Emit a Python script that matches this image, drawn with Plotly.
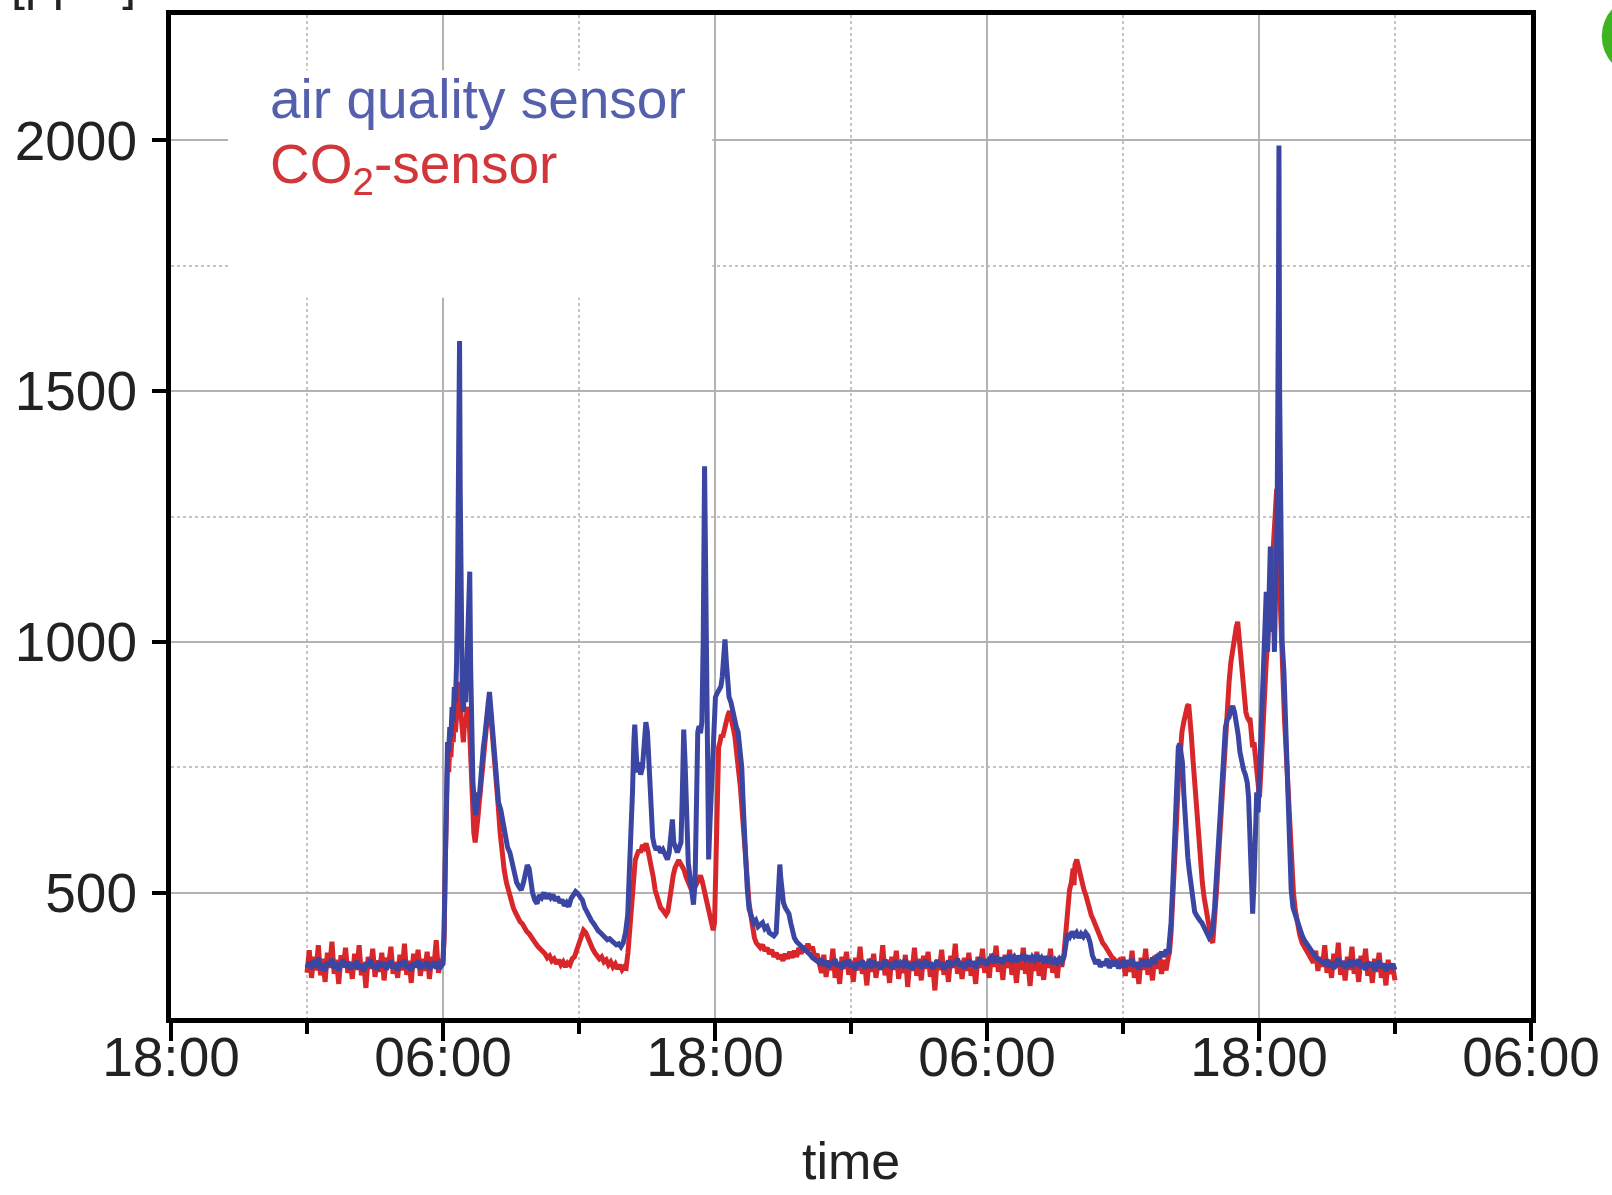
import plotly.graph_objects as go

# ---------------- data (hours after 18:00 of day 0, ppm) ----------------
tick_hours = [0, 12, 24, 36, 48, 60]
tick_labels = ["18:00", "06:00", "18:00", "06:00", "18:00", "06:00"]
y_ticks = [500, 1000, 1500, 2000]

air_t = [
    6.0, 6.1, 6.2, 6.3, 6.4, 6.5, 6.6, 6.7, 6.8, 6.9, 7.0, 7.1, 7.2, 7.3, 7.4, 7.5, 7.6, 7.7, 7.8, 7.9,
    8.0, 8.1, 8.2, 8.3, 8.4, 8.5, 8.6, 8.7, 8.8, 8.9, 9.0, 9.1, 9.2, 9.3, 9.4, 9.5, 9.6, 9.7, 9.8, 9.9,
    10.0, 10.1, 10.2, 10.3, 10.4, 10.5, 10.6, 10.7, 10.8, 10.9, 11.0, 11.1, 11.2, 11.3, 11.4, 11.5, 11.6, 11.7, 11.8, 11.9,
    12.0, 12.05, 12.1, 12.15, 12.2, 12.25, 12.3, 12.35, 12.4, 12.45, 12.5, 12.55, 12.6, 12.65, 12.7, 12.73, 12.76, 12.8,
    12.85, 12.9, 12.95, 13.0, 13.05, 13.1, 13.15, 13.18, 13.22, 13.27, 13.32, 13.38, 13.44, 13.5, 13.55, 13.6, 13.66,
    13.72, 13.78, 13.84, 13.9, 13.95, 14.0, 14.05, 14.1, 14.15, 14.22, 14.3, 14.37, 14.45, 14.55, 14.65, 14.75, 14.85,
    14.95, 15.05, 15.15, 15.25, 15.35, 15.45, 15.55, 15.65, 15.72, 15.8, 15.88, 15.95, 16.05, 16.15, 16.25, 16.35, 16.45,
    16.55, 16.65, 16.75, 16.85, 16.95, 17.05, 17.15, 17.25, 17.35, 17.45, 17.55, 17.65, 17.75, 17.85, 17.95, 18.05, 18.15,
    18.25, 18.35, 18.45, 18.55, 18.65, 18.75, 18.85, 18.95, 19.05, 19.15, 19.25, 19.35, 19.45, 19.55, 19.65, 19.75, 19.85,
    19.95, 20.05, 20.15, 20.22, 20.3, 20.36, 20.42, 20.46, 20.52, 20.58, 20.65, 20.72, 20.8, 20.88, 20.95, 21.02, 21.1,
    21.18, 21.25, 21.32, 21.4, 21.5, 21.6, 21.7, 21.8, 21.9, 21.98, 22.06, 22.12, 22.18, 22.26, 22.34, 22.42, 22.5, 22.56,
    22.62, 22.68, 22.74, 22.82, 22.9, 22.98, 23.05, 23.12, 23.18, 23.24, 23.3, 23.36, 23.42, 23.48, 23.54, 23.58, 23.63,
    23.68, 23.72, 23.78, 23.84, 23.9, 23.96, 24.02, 24.1, 24.18, 24.26, 24.32, 24.38, 24.44, 24.5, 24.56, 24.62, 24.7,
    24.78, 24.86, 24.94, 25.02, 25.1, 25.18, 25.26, 25.34, 25.42, 25.5, 25.6, 25.7, 25.8, 25.9, 26.0, 26.1, 26.2, 26.3,
    26.4, 26.5, 26.6, 26.7, 26.76, 26.82, 26.86, 26.9, 26.96, 27.02, 27.1, 27.18, 27.26, 27.34, 27.42, 27.5, 27.6, 27.7,
    27.8, 27.9, 28.0, 28.1, 28.2, 28.3, 28.4, 28.5,
    28.6, 28.7, 28.8, 28.9, 29.0, 29.1, 29.2, 29.3, 29.4, 29.5, 29.6, 29.7, 29.8, 29.9, 30.0, 30.1, 30.2, 30.3, 30.4, 30.5,
    30.6, 30.7, 30.8, 30.9, 31.0, 31.1, 31.2, 31.3, 31.4, 31.5, 31.6, 31.7, 31.8, 31.9, 32.0, 32.1, 32.2, 32.3, 32.4, 32.5,
    32.6, 32.7, 32.8, 32.9, 33.0, 33.1, 33.2, 33.3, 33.4, 33.5, 33.6, 33.7, 33.8, 33.9, 34.0, 34.1, 34.2, 34.3, 34.4, 34.5,
    34.6, 34.7, 34.8, 34.9, 35.0, 35.1, 35.2, 35.3, 35.4, 35.5, 35.6, 35.7, 35.8, 35.9, 36.0, 36.1, 36.2, 36.3, 36.4, 36.5,
    36.6, 36.7, 36.8, 36.9, 37.0, 37.1, 37.2, 37.3, 37.4, 37.5, 37.6, 37.7, 37.8, 37.9, 38.0, 38.1, 38.2, 38.3, 38.4, 38.5,
    38.6, 38.7, 38.8, 38.9, 39.0, 39.1, 39.2, 39.3,
    39.4, 39.48, 39.55, 39.65, 39.75, 39.85, 39.95, 40.05, 40.15, 40.25, 40.35, 40.45, 40.55, 40.65, 40.75,
    40.8, 40.9, 41.0, 41.1, 41.2, 41.3, 41.4, 41.5, 41.6, 41.7, 41.8, 41.9, 42.0, 42.1, 42.2, 42.3, 42.4, 42.5, 42.6, 42.7,
    42.8, 42.9, 43.0, 43.1, 43.2, 43.3, 43.4, 43.5, 43.6, 43.7, 43.8, 43.9, 44.0,
    44.05, 44.12, 44.2, 44.28, 44.36, 44.44, 44.5, 44.56, 44.62, 44.68, 44.74, 44.8, 44.86, 44.92, 45.0, 45.08, 45.16,
    45.24, 45.32, 45.4, 45.48, 45.56, 45.64, 45.72, 45.8, 45.88, 45.96, 46.04, 46.12, 46.2, 46.28, 46.36, 46.44, 46.52,
    46.6, 46.68, 46.76, 46.84, 46.92, 47.0, 47.08, 47.16, 47.24, 47.32, 47.4, 47.48, 47.54, 47.6, 47.66, 47.72, 47.78,
    47.84, 47.9, 47.96, 48.02, 48.08, 48.14, 48.2, 48.26, 48.32, 48.38, 48.44, 48.5, 48.56, 48.62, 48.68, 48.74, 48.8,
    48.86, 48.88, 48.91, 48.96, 49.02, 49.1, 49.18, 49.26, 49.34, 49.42, 49.5, 49.6, 49.7, 49.8, 49.9, 50.0, 50.1, 50.2,
    50.3, 50.4, 50.5, 50.6, 50.7, 50.8, 50.9,
    51.0, 51.1, 51.2, 51.3, 51.4, 51.5, 51.6, 51.7, 51.8, 51.9, 52.0, 52.1, 52.2, 52.3, 52.4, 52.5, 52.6, 52.7, 52.8, 52.9,
    53.0, 53.1, 53.2, 53.3, 53.4, 53.5, 53.6, 53.7, 53.8, 53.9, 54.0,
]
air_ppm = [
    350, 362, 348, 365, 352, 370, 346, 358, 344, 362, 355, 368, 349, 360, 345, 357, 366, 351, 362, 347,
    359, 350, 364, 348, 356, 343, 361, 353, 367, 350, 358, 346, 363, 352, 360, 347, 356, 364, 349, 358,
    345, 362, 354, 366, 350, 357, 344, 360, 352, 365, 348, 359, 351, 363, 347, 356, 362, 349, 358, 352,
    358, 430, 620, 760, 800, 780, 830, 810, 870, 840, 910, 880, 960, 1150, 1450, 1600, 1300, 1000,
    900, 860, 930, 880, 950, 1000, 1100, 1140, 950, 800, 720, 680, 655, 670, 700, 690, 735,
    760, 790, 810, 850, 870, 880, 900, 870, 850, 800, 740, 720, 680, 665, 640, 615, 590,
    580, 560, 540, 520, 512, 505, 520, 540, 555, 548, 520, 500, 485, 478, 495, 490, 500,
    488, 498, 490, 496, 484, 492, 480, 486, 474, 480, 472, 488, 496, 502, 498, 490, 485,
    470, 460, 452, 444, 438, 430, 424, 420, 414, 412, 406, 408, 402, 400, 396, 398, 392,
    400, 420, 455, 540, 610, 700, 800, 835, 780, 740, 760, 735, 750, 790, 840, 820, 740,
    690, 610, 595, 585, 592, 580, 586, 572, 566, 580, 620, 646, 600, 585, 580, 590, 600, 700,
    825, 760, 620, 560, 530, 500, 476, 520, 700, 820, 832, 818, 840, 1000, 1350, 1100, 800,
    600, 566, 640, 720, 800, 860, 890, 898, 905, 911, 930, 960, 1005, 960, 905, 890, 880,
    860, 840, 830, 820, 790, 750, 660, 560, 510, 468, 450, 440, 445, 432, 436, 440, 428, 432,
    420, 418, 414, 420, 470, 540, 556, 530, 500, 480, 470, 462, 458, 440, 420, 410, 402, 398,
    394, 388, 384, 380, 376, 370, 366, 364,
    360, 368, 355, 364, 350, 362, 356, 367, 352, 360, 348, 363, 355, 366, 351, 359, 346, 361, 354, 365,
    349, 358, 362, 350, 364, 353, 360, 347, 357, 366, 352, 361, 349, 358, 364, 351, 360, 355, 367, 350,
    359, 346, 362, 354, 363, 349, 358, 366, 352, 361, 348, 357, 365, 353, 360, 347, 358, 364, 351, 362,
    356, 368, 353, 361, 349, 360, 366, 354, 363, 350, 362, 370, 358, 366, 355, 368, 372, 360, 374, 362,
    370, 358, 372, 364, 376, 366, 372, 362, 374, 366, 378, 368, 374, 362, 372, 366, 376, 364, 370, 360,
    372, 364, 368, 358, 366, 360, 368, 362,
    372, 400, 418, 412, 422, 414, 420, 410, 418, 412, 420, 414, 400, 375, 362,
    358, 366, 352, 362, 355, 368, 350, 360, 354, 365, 349, 358, 362, 351, 364, 355, 368, 352, 361, 348,
    360, 366, 353, 362, 357, 370, 358, 376, 368, 382, 372, 386, 378,
    400, 440, 520, 620, 720, 790, 797, 780, 760, 700, 640, 600, 570, 545, 510, 485, 462,
    455, 448, 444, 440, 432, 425, 418, 410, 415, 430, 470, 530, 600, 670, 730, 790, 830,
    845, 850, 865, 872, 860, 840, 815, 780, 760, 745, 735, 720, 690, 620, 540, 458, 520,
    620, 700, 660, 740, 820, 900, 960, 1040, 1100, 980, 1080, 1190, 1020, 1120, 980, 1150, 1250,
    1700, 1990, 1500, 1100, 1000, 940, 830, 700, 580, 505, 470, 455, 440, 428, 415, 405, 398, 390,
    385, 378, 372, 368, 364, 362, 358,
    366, 352, 362, 348, 360, 368, 354, 363, 349, 358, 366, 351, 361, 355, 367, 350, 359, 346, 362, 353,
    360, 345, 357, 364, 350, 358, 344, 356, 348, 358, 346,
]

co2_t = [
    6.0, 6.1, 6.2, 6.3, 6.4, 6.5, 6.6, 6.7, 6.8, 6.9, 7.0, 7.1, 7.2, 7.3, 7.4, 7.5, 7.6, 7.7, 7.8, 7.9,
    8.0, 8.1, 8.2, 8.3, 8.4, 8.5, 8.6, 8.7, 8.8, 8.9, 9.0, 9.1, 9.2, 9.3, 9.4, 9.5, 9.6, 9.7, 9.8, 9.9,
    10.0, 10.1, 10.2, 10.3, 10.4, 10.5, 10.6, 10.7, 10.8, 10.9, 11.0, 11.1, 11.2, 11.3, 11.4, 11.5, 11.6, 11.7, 11.8, 11.9,
    12.0, 12.05, 12.1, 12.15, 12.2, 12.25, 12.3, 12.35, 12.4, 12.45, 12.5, 12.55, 12.6, 12.65, 12.7, 12.75, 12.8, 12.85,
    12.9, 12.95, 13.0, 13.05, 13.1, 13.15, 13.2, 13.25, 13.3, 13.36, 13.42, 13.48, 13.54, 13.6, 13.66, 13.72, 13.78,
    13.84, 13.9, 13.96, 14.02, 14.08, 14.14, 14.2, 14.28, 14.36, 14.44, 14.52, 14.6, 14.7, 14.8, 14.9, 15.0, 15.1, 15.2,
    15.3, 15.4, 15.5, 15.6, 15.7, 15.8, 15.9, 16.0, 16.1, 16.2, 16.3, 16.4, 16.5, 16.6, 16.7, 16.8, 16.9, 17.0, 17.1,
    17.2, 17.3, 17.4, 17.5, 17.6, 17.7, 17.8, 17.9, 18.0, 18.1, 18.2, 18.3, 18.4, 18.5, 18.6, 18.7, 18.8, 18.9, 19.0,
    19.1, 19.2, 19.3, 19.4, 19.5, 19.6, 19.7, 19.8, 19.9, 20.0, 20.08, 20.16, 20.24, 20.32, 20.4, 20.48, 20.56, 20.64,
    20.72, 20.8, 20.88, 20.96, 21.04, 21.12, 21.2, 21.28, 21.36, 21.44, 21.52, 21.6, 21.68, 21.76, 21.84, 21.92, 22.0,
    22.08, 22.16, 22.24, 22.32, 22.4, 22.48, 22.56, 22.64, 22.72, 22.8, 22.88, 22.96, 23.04, 23.12, 23.2, 23.28, 23.36,
    23.44, 23.52, 23.6, 23.68, 23.76, 23.84, 23.92, 23.98, 24.04, 24.1, 24.16, 24.22, 24.28, 24.34, 24.4, 24.46, 24.52,
    24.58, 24.64, 24.7, 24.76, 24.82, 24.88, 24.94, 25.0, 25.06, 25.12, 25.18, 25.24, 25.3, 25.36, 25.42, 25.5, 25.58,
    25.66, 25.74, 25.82, 25.9, 26.0, 26.1, 26.2, 26.3, 26.4, 26.5, 26.6, 26.7, 26.8, 26.9, 27.0, 27.1, 27.2, 27.3, 27.4,
    27.5, 27.6, 27.7, 27.8, 27.9, 28.0, 28.1, 28.2, 28.3, 28.4, 28.5,
    28.6, 28.7, 28.8, 28.9, 29.0, 29.1, 29.2, 29.3, 29.4, 29.5, 29.6, 29.7, 29.8, 29.9, 30.0, 30.1, 30.2, 30.3, 30.4, 30.5,
    30.6, 30.7, 30.8, 30.9, 31.0, 31.1, 31.2, 31.3, 31.4, 31.5, 31.6, 31.7, 31.8, 31.9, 32.0, 32.1, 32.2, 32.3, 32.4, 32.5,
    32.6, 32.7, 32.8, 32.9, 33.0, 33.1, 33.2, 33.3, 33.4, 33.5, 33.6, 33.7, 33.8, 33.9, 34.0, 34.1, 34.2, 34.3, 34.4, 34.5,
    34.6, 34.7, 34.8, 34.9, 35.0, 35.1, 35.2, 35.3, 35.4, 35.5, 35.6, 35.7, 35.8, 35.9, 36.0, 36.1, 36.2, 36.3, 36.4, 36.5,
    36.6, 36.7, 36.8, 36.9, 37.0, 37.1, 37.2, 37.3, 37.4, 37.5, 37.6, 37.7, 37.8, 37.9, 38.0, 38.1, 38.2, 38.3, 38.4, 38.5,
    38.6, 38.7, 38.8, 38.9, 39.0, 39.1, 39.2, 39.3,
    39.4, 39.48, 39.56, 39.64, 39.72, 39.8, 39.84, 39.88, 39.96, 40.04, 40.12, 40.2, 40.28, 40.36, 40.44, 40.52, 40.6,
    40.7, 40.8, 40.9, 41.0, 41.1, 41.2, 41.3, 41.4, 41.5, 41.6, 41.7, 41.8,
    41.9, 42.0, 42.1, 42.2, 42.3, 42.4, 42.5, 42.6, 42.7, 42.8, 42.9, 43.0, 43.1, 43.2, 43.3, 43.4, 43.5, 43.6, 43.7,
    43.8, 43.9, 44.0,
    44.05, 44.12, 44.2, 44.28, 44.36, 44.44, 44.52, 44.6, 44.68, 44.76, 44.84, 44.9, 44.96, 45.02, 45.08, 45.14, 45.2,
    45.26, 45.32, 45.38, 45.44, 45.5, 45.58, 45.66, 45.74, 45.82, 45.9, 45.96, 46.04, 46.12, 46.2, 46.28, 46.36, 46.44,
    46.52, 46.6, 46.68, 46.76, 46.84, 46.92, 47.0, 47.06, 47.12, 47.18, 47.24, 47.3, 47.36, 47.42, 47.48, 47.54, 47.6,
    47.66, 47.72, 47.78, 47.84, 47.9, 47.96, 48.02, 48.08, 48.14, 48.2, 48.26, 48.32, 48.38, 48.44, 48.5, 48.56, 48.62,
    48.68, 48.74, 48.78, 48.82, 48.88, 48.94, 49.0, 49.06, 49.12, 49.2, 49.28, 49.36, 49.44, 49.52, 49.6, 49.7, 49.8,
    49.9, 50.0, 50.1, 50.2, 50.3,
    50.4, 50.5, 50.6, 50.7, 50.8, 50.9, 51.0, 51.1, 51.2, 51.3, 51.4, 51.5, 51.6, 51.7, 51.8, 51.9, 52.0, 52.1, 52.2,
    52.3, 52.4, 52.5, 52.6, 52.7, 52.8, 52.9, 53.0, 53.1, 53.2, 53.3, 53.4, 53.5, 53.6, 53.7, 53.8, 53.9, 54.0,
]
co2_ppm = [
    340, 385, 330, 372, 345, 395, 335, 368, 322, 380, 350, 402, 338, 366, 318, 375, 352, 390, 340, 362,
    328, 378, 346, 395, 335, 360, 310, 372, 348, 388, 332, 365, 342, 380, 325, 370, 355, 392, 338, 362,
    330, 376, 345, 398, 336, 364, 320, 378, 350, 386, 334, 368, 344, 382, 328, 372, 352, 405, 340, 366,
    362, 410, 560, 700, 760, 740, 790, 770, 820, 800, 840, 820, 870, 900, 920, 880, 850, 820,
    800, 840, 830, 860, 870, 850, 780, 700, 650, 620, 600, 620, 650, 680, 710, 740, 780,
    810, 840, 860, 880, 870, 840, 800, 760, 720, 670, 620, 580, 545, 520, 500, 485, 470, 460,
    450, 442, 438, 428, 422, 418, 410, 405, 398, 392, 388, 384, 378, 370, 374, 364, 368, 358, 366,
    356, 362, 352, 360, 356, 368, 372, 384, 398, 412, 425, 420, 408, 396, 388, 380, 374, 368, 372,
    362, 366, 356, 362, 352, 358, 348, 356, 346, 352, 350, 380, 430, 490, 530, 565, 575, 585,
    580, 595, 590, 598, 585, 570, 550, 530, 505, 490, 478, 470, 466, 460, 456, 462, 490,
    515, 535, 550, 560, 565, 558, 552, 545, 532, 522, 512, 506, 504, 512, 520, 528, 534,
    522, 505, 490, 470, 455, 440, 425, 440, 560, 700, 790, 800, 815, 810, 825, 835, 845,
    855, 862, 850, 840, 825, 810, 790, 760, 735, 710, 670, 620, 580, 545, 515, 480, 455,
    430, 410, 400, 395, 390, 396, 384, 390, 378, 386, 372, 380, 368, 376, 364, 378, 368, 382, 370,
    384, 372, 390, 378, 394, 382, 398, 385, 392, 370, 378,
    362, 340, 376, 332, 365, 345, 388, 330, 360, 318, 372, 348, 382, 336, 364, 322, 370, 345, 392, 338,
    358, 315, 368, 342, 378, 330, 362, 348, 395, 335, 366, 320, 372, 346, 384, 328, 360, 340, 376, 312,
    364, 344, 390, 334, 368, 325, 374, 348, 382, 332, 358, 305, 366, 346, 386, 336, 362, 322, 374, 350,
    398, 338, 364, 328, 370, 344, 380, 334, 360, 318, 372, 350, 388, 340, 366, 330, 378, 352, 394, 342,
    368, 326, 376, 350, 386, 336, 364, 320, 370, 346, 390, 338, 362, 314, 368, 344, 382, 334, 360, 326,
    374, 350, 388, 340, 366, 330, 372, 352,
    380, 430, 470, 505, 520, 548, 515, 555, 566, 548, 530, 520, 505, 495, 480, 470, 455,
    445, 432, 420, 410, 400, 394, 386, 380, 372, 368, 360, 364,
    350, 372, 334, 366, 342, 384, 330, 360, 318, 370, 346, 388, 336, 362, 325, 374, 348, 380, 338,
    366, 345, 372,
    380, 420, 480, 560, 640, 720, 780, 820, 840, 860, 872, 875, 850, 810, 770, 730, 700,
    660, 620, 580, 545, 520, 490, 465, 440, 420, 405, 400, 440, 500, 560, 620, 700, 770,
    830, 880, 920, 960, 990, 1010, 1030, 1040, 1010, 970, 930, 900, 875, 860, 850, 845, 848,
    820, 790, 800, 765, 730, 700, 690, 740, 800, 880, 930, 960, 1000, 1060, 1100, 1150, 1180,
    1240, 1300, 1305, 1230, 1150, 1050, 960, 900, 850, 780, 700, 620, 550, 500, 465, 435, 415,
    400, 392, 384, 378, 372,
    360, 384, 344, 372, 352, 395, 340, 366, 330, 378, 350, 400, 336, 364, 325, 372, 346, 392, 338,
    360, 322, 374, 348, 388, 334, 362, 320, 368, 342, 380, 330, 356, 315, 366, 338, 352, 325,
]

series_names = ["air quality sensor", "CO<sub>2</sub>-sensor"]
BLUE = "#3b46a3"
RED = "#d8272a"
FONT = "Liberation Sans, Arial, Helvetica, sans-serif"

fig = go.Figure()
fig.add_trace(go.Scatter(x=co2_t, y=co2_ppm, mode="lines", name="CO2-sensor",
                         line=dict(color=RED, width=5), showlegend=False))
fig.add_trace(go.Scatter(x=air_t, y=air_ppm, mode="lines", name="air quality sensor",
                         line=dict(color=BLUE, width=5), showlegend=False))

axis_common = dict(
    showline=True, linewidth=5, linecolor="black", mirror=True,
    ticks="outside", tickwidth=4, tickcolor="black",
    tickfont=dict(family=FONT, size=55, color="#222222"),
    showgrid=True, gridcolor="#b3b3b3", gridwidth=2, zeroline=False,
)

fig.update_xaxes(
    range=[0, 60], tickmode="array", tickvals=tick_hours, ticktext=tick_labels,
    ticklen=18, ticklabelstandoff=-31,
    minor=dict(tick0=0, dtick=6, ticks="outside", ticklen=11, tickwidth=4, tickcolor="black",
               showgrid=True, gridcolor="#c4c4c4", griddash="dot", gridwidth=2),
    **axis_common,
)
fig.update_yaxes(
    range=[250, 2250], tickmode="array", tickvals=y_ticks,
    ticklen=14, ticklabelstandoff=4,
    minor=dict(tick0=0, dtick=250, ticks="", showgrid=True, gridcolor="#c4c4c4",
               griddash="dot", gridwidth=2),
    **axis_common,
)

# white area behind the legend text (hides grid lines like the original; no data there)
fig.add_shape(type="rect", xref="paper", yref="paper", x0=0.042, x1=0.398, y0=0.718, y1=0.945,
              fillcolor="white", line=dict(width=0), layer="above")
# green marker partly outside the page (top right)
fig.add_shape(type="circle", xref="paper", yref="paper", x0=1.052, x1=1.111, y0=0.939, y1=1.019,
              fillcolor="#3cb521", line=dict(width=0), layer="above")

fig.add_annotation(xref="paper", yref="paper", x=0.071, y=0.916, xanchor="left", yanchor="middle",
                   text=series_names[0], showarrow=False,
                   font=dict(family=FONT, size=55, color="#5560ad"))
fig.add_annotation(xref="paper", yref="paper", x=0.071, y=0.847, xanchor="left", yanchor="middle",
                   text=series_names[1], showarrow=False,
                   font=dict(family=FONT, size=55, color="#d0363a"))
fig.add_annotation(xref="paper", yref="paper", x=0.5, y=-0.1426, xanchor="center", yanchor="middle",
                   text="time", showarrow=False, font=dict(family=FONT, size=52, color="#222222"))
fig.add_annotation(xref="paper", yref="paper", x=-0.0243, y=1.002, xanchor="right", yanchor="bottom",
                   text="[ppm]", showarrow=False, font=dict(family=FONT, size=50, color="#222222"))

fig.update_layout(
    width=1612, height=1195,
    margin=dict(l=171, r=81, t=15, b=177, autoexpand=False),
    paper_bgcolor="white", plot_bgcolor="white",
    showlegend=False,
)

fig.write_html("out.html")
